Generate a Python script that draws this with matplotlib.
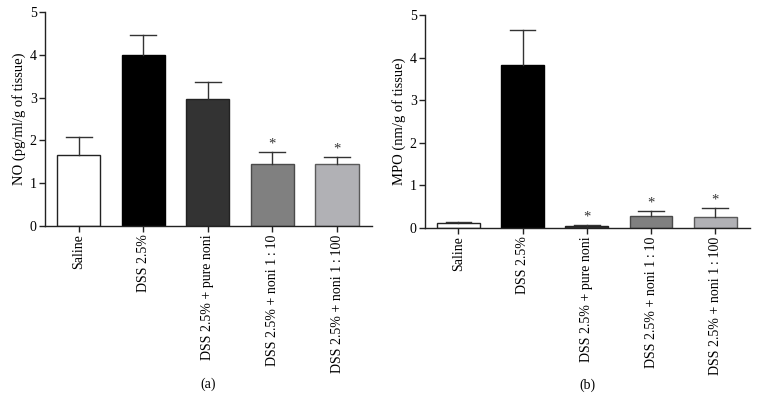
import matplotlib
matplotlib.use("Agg")
import matplotlib.pyplot as plt
import numpy as np

plt.rcParams['font.family'] = ['Liberation Serif', 'DejaVu Serif']

categories = ["Saline", "DSS 2.5%", "DSS 2.5% + pure noni", "DSS 2.5% + noni 1\u2009:\u200910", "DSS 2.5% + noni 1\u2009:\u2009100"]
no_values = [1.66, 3.99, 2.97, 1.46, 1.44]
no_errors = [0.41, 0.48, 0.39, 0.28, 0.17]
no_sig = [False, False, False, True, True]
mpo_values = [0.12, 3.84, 0.05, 0.28, 0.25]
mpo_errors = [0.03, 0.80, 0.03, 0.13, 0.23]
mpo_sig = [False, False, True, True, True]
yticks = [0, 1, 2, 3, 4, 5]

colors = ["#ffffff", "#000000", "#333333", "#808080", "#b1b1b5"]
edges = ["#222222", "#000000", "#222222", "#4a4a4a", "#5a5a5a"]

fig = plt.figure(figsize=(7.59, 4.08), dpi=100)
ax1 = fig.add_axes([0.0593, 0.446, 0.4307, 0.5246])
ax2 = fig.add_axes([0.560, 0.441, 0.428, 0.522])

def draw(ax, vals, errs, sig, ylabel, caption):
    x = np.arange(len(vals))
    ax.bar(x, vals, width=0.667, color=colors, edgecolor=edges, linewidth=1.0, zorder=2)
    for xi, v, e, s in zip(x, vals, errs, sig):
        ax.plot([xi, xi], [v, v + e], color="#333333", lw=1.0, zorder=3)
        ax.plot([xi - 0.2, xi + 0.2], [v + e, v + e], color="#333333", lw=1.0, zorder=3)
        if s:
            ax.text(xi, v + e + 0.03, "*", ha="center", va="bottom", fontsize=10.5, color="#333333")
    ax.set_xlim(-0.52, 4.54)
    ax.set_ylim(0, 5)
    ax.set_yticks(yticks)
    ax.set_yticklabels([str(t) for t in yticks], fontsize=10)
    ax.set_xticks(x)
    ax.set_xticklabels(categories, rotation=90, fontsize=10)
    ax.spines['top'].set_visible(False)
    ax.spines['right'].set_visible(False)
    for sp in ['left', 'bottom']:
        ax.spines[sp].set_color("#222222")
        ax.spines[sp].set_linewidth(1.0)
    ax.tick_params(axis='both', direction='out', length=4, width=1.0, color="#222222", pad=2)
    ax.set_ylabel(ylabel, fontsize=10.5, labelpad=3)
    ax.text(0.5, -0.74, caption, transform=ax.transAxes, ha="center", va="center", fontsize=10)

draw(ax1, no_values, no_errors, no_sig, "NO (pg/ml/g of tissue)", "(a)")
draw(ax2, mpo_values, mpo_errors, mpo_sig, "MPO (nm/g of tissue)", "(b)")

fig.savefig("out.png", dpi=100)
